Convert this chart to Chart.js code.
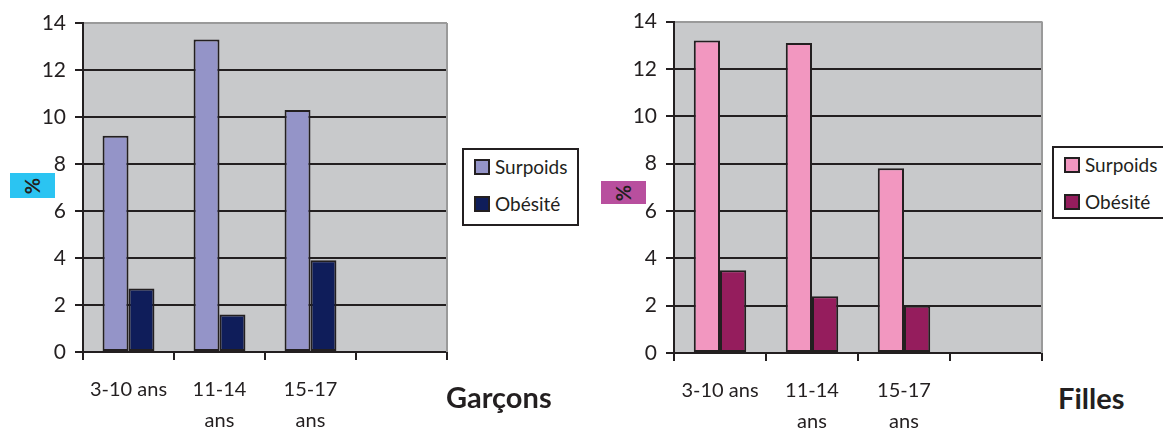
<!DOCTYPE html>
<html>
<head>
<meta charset="utf-8">
<script src="https://cdn.jsdelivr.net/npm/chart.js@4.4.1/dist/chart.umd.min.js"></script>
<style>
  body { margin: 0; width: 1163px; height: 430px; overflow: hidden; background: #fff;
         font-family: Lato, sans-serif; color: #231f20; position: relative; }
  .wrap { position: absolute; top: 0; height: 430px; }
  .legend { position: absolute; border: 2px solid #231f20; box-sizing: border-box; background: #fff; }
  .item { position: absolute; left: 10px; font-size: 19px; line-height: 22px; white-space: nowrap; }
  .item span.sw { display: inline-block; width: 12px; height: 12px; border: 2px solid #231f20;
                  vertical-align: -1px; margin-right: 5px; }
  .pct { position: absolute; display: flex; align-items: center; justify-content: center; }
  .pct span { display: inline-block; transform: rotate(-90deg); font-weight: bold; font-size: 20px; color: #231f20; }
  .title { position: absolute; font-weight: bold; font-size: 29px; line-height: 30px; }
</style>
</head>
<body>
<div class="wrap" style="left:0;width:450px"><canvas id="garcons"></canvas></div>
<div class="wrap" style="left:590px;width:455px"><canvas id="filles"></canvas></div>

<div class="pct" style="left:10px;top:173px;width:45px;height:25px;background:#2bc4f2"><span>%</span></div>
<div class="pct" style="left:601px;top:181px;width:45px;height:23px;background:#b84f9e"><span>%</span></div>

<div class="legend" id="legG" style="left:462px;top:148px;width:117px;height:78px"></div>
<div class="legend" id="legF" style="left:1052px;top:146px;width:117px;height:73px"></div>

<div class="title" style="left:446px;top:382px">Garçons</div>
<div class="title" style="left:1058px;top:383px">Filles</div>

<script>
// données
var categories = [["3-10 ans"], ["11-14", "ans"], ["15-17", "ans"], [""]];
var seriesNames = ["Surpoids", "Obésité"];
var garconsSurpoids = [9.2, 13.3, 10.3, null];
var garconsObesite = [2.7, 1.6, 3.9, null];
var fillesSurpoids = [13.2, 13.1, 7.8, null];
var fillesObesite = [3.5, 2.4, 2.0, null];
var yTicks = [0, 2, 4, 6, 8, 10, 12, 14];

var garconsColors = ["#9494c8", "#0f1d5a"];
var fillesColors = ["#f297c0", "#951d5d"];

var ink = "#231f20";

var plotBg = {
  id: "plotBg",
  beforeDraw: function (chart) {
    var a = chart.chartArea, c = chart.ctx;
    c.save();
    c.fillStyle = "#c8c9cb";
    c.fillRect(a.left, a.top, a.right - a.left, a.bottom - a.top);
    c.restore();
  },
  beforeDatasetsDraw: function (chart) {
    var a = chart.chartArea, c = chart.ctx;
    c.save();
    c.strokeStyle = "#9a9a9a";
    c.lineWidth = 2;
    c.beginPath();
    c.moveTo(a.right, a.top);
    c.lineTo(a.right, a.bottom);
    c.stroke();
    c.restore();
  }
};

function makeChart(id, surpoids, obesite, colors, top, yWidth, xHeight) {
  return new Chart(id, {
    type: "bar",
    data: {
      labels: categories,
      datasets: [
        { label: seriesNames[0], data: surpoids, backgroundColor: colors[0], borderColor: ink, borderWidth: 2, borderSkipped: false },
        { label: seriesNames[1], data: obesite, backgroundColor: colors[1], borderColor: ink, borderWidth: 2, borderSkipped: false }
      ]
    },
    options: {
      responsive: true,
      maintainAspectRatio: false,
      animation: false,
      layout: { padding: { top: top, right: 3, left: 0, bottom: 0 } },
      datasets: { bar: { categoryPercentage: 0.57, barPercentage: 1 } },
      plugins: { legend: { display: false }, tooltip: { enabled: false } },
      scales: {
        x: {
          grid: { drawOnChartArea: false, drawTicks: true, tickLength: 8, color: ink, lineWidth: 2 },
          border: { color: ink, width: 2 },
          ticks: { color: ink, font: { family: "Lato", size: 20, lineHeight: 1.55 }, padding: 14, maxRotation: 0 },
          afterFit: function (s) { s.height = xHeight; }
        },
        y: {
          min: 0, max: 14,
          afterBuildTicks: function (s) { s.ticks = yTicks.map(function (v) { return { value: v }; }); },
          grid: {
            color: function (ctx) { return ctx.tick && ctx.tick.value === 14 ? "#9a9a9a" : ink; },
            tickColor: ink, lineWidth: 2, tickLength: 8
          },
          border: { color: ink, width: 2 },
          ticks: { color: ink, font: { family: "Lato", size: 21 }, padding: 9 },
          afterFit: function (s) { s.width = yWidth; }
        }
      }
    },
    plugins: [plotBg]
  });
}

makeChart("garcons", garconsSurpoids, garconsObesite, garconsColors, 23, 83, 78);
makeChart("filles", fillesSurpoids, fillesObesite, fillesColors, 19, 84, 77);

function buildLegend(elId, colors, tops) {
  var el = document.getElementById(elId);
  seriesNames.forEach(function (name, i) {
    var d = document.createElement("div");
    d.className = "item";
    d.style.top = tops[i] + "px";
    d.innerHTML = '<span class="sw" style="background:' + colors[i] + '"></span>' + name;
    el.appendChild(d);
  });
}
buildLegend("legG", garconsColors, [6, 43]);
buildLegend("legF", fillesColors, [6, 43]);
</script>
</body>
</html>
